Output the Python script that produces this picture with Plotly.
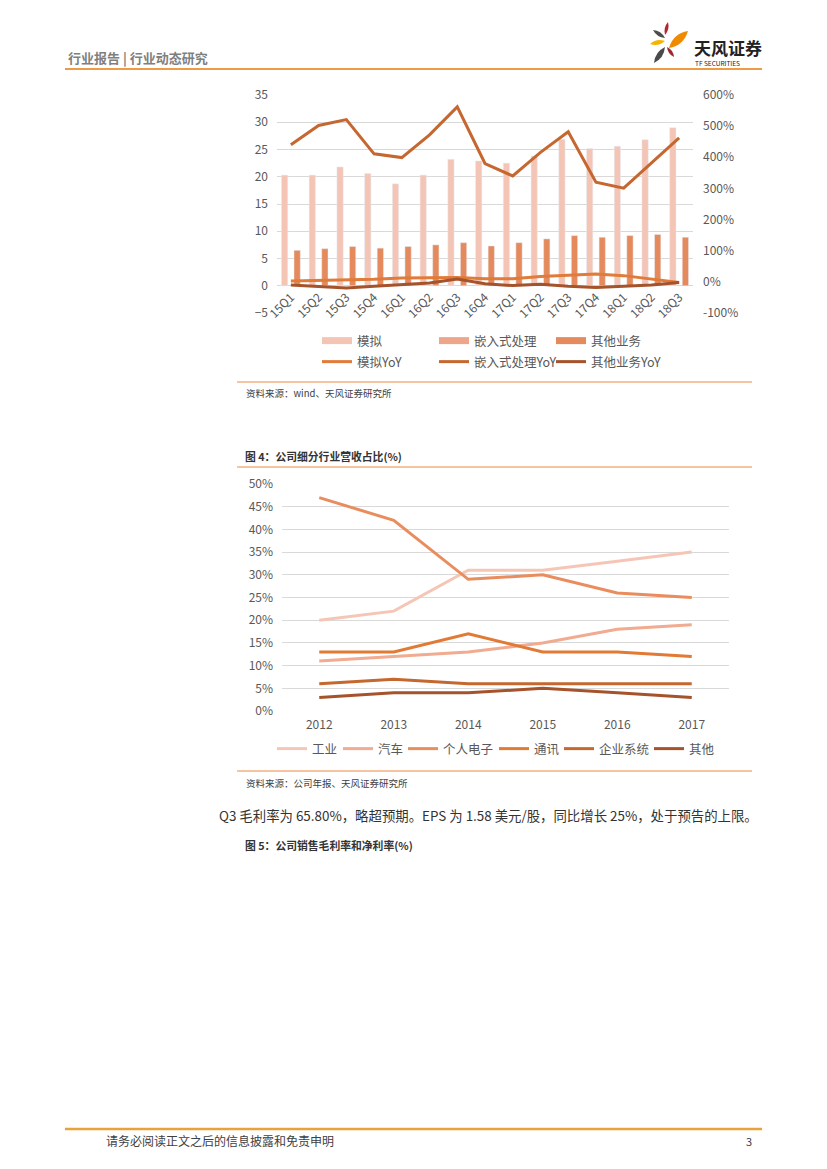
import plotly.graph_objects as go

W, H = 827, 1169
OFF = 8  # page body margin offset


def px(x):
    return (x - OFF) / W


def py(y):
    return 1 - (y - OFF) / H


# ---------------- data: chart 1 ----------------
quarters = ["15Q1", "15Q2", "15Q3", "15Q4", "16Q1", "16Q2", "16Q3", "16Q4",
            "17Q1", "17Q2", "17Q3", "17Q4", "18Q1", "18Q2", "18Q3"]
analog = [20.3, 20.3, 21.8, 20.6, 18.7, 20.3, 23.2, 22.9,
          22.5, 23.8, 26.9, 25.2, 25.6, 26.8, 29.0]
embedded = [None] * 15
other_biz = [6.5, 6.8, 7.2, 6.9, 7.2, 7.5, 7.9, 7.3,
             7.9, 8.6, 9.2, 8.9, 9.2, 9.4, 8.9]
analog_yoy = [0.03, 0.04, 0.06, 0.08, 0.12, 0.12, 0.14, 0.10,
              0.10, 0.17, 0.20, 0.25, 0.20, 0.08, -0.02]
embedded_yoy = [4.40, 5.02, 5.21, 4.11, 3.99, 4.72, 5.62, 3.80,
                3.40, 4.16, 4.82, 3.20, 3.01, 3.81, 4.62]
other_yoy = [-0.10, -0.14, -0.20, -0.14, -0.09, -0.04, 0.09, -0.06,
             -0.12, -0.08, -0.14, -0.18, -0.14, -0.10, -0.02]
right_ticks = [-1, 0, 1, 2, 3, 4, 5, 6]
right_labels = ["-100%", "0%", "100%", "200%", "300%", "400%", "500%", "600%"]

# ---------------- data: chart 2 ----------------
years = ["2012", "2013", "2014", "2015", "2016", "2017"]
industrial = [0.20, 0.22, 0.31, 0.31, 0.33, 0.35]
automotive = [0.11, 0.12, 0.13, 0.15, 0.18, 0.19]
personal = [0.47, 0.42, 0.29, 0.30, 0.26, 0.25]
comms = [0.13, 0.13, 0.17, 0.13, 0.13, 0.12]
enterprise = [0.06, 0.07, 0.06, 0.06, 0.06, 0.06]
others = [0.03, 0.04, 0.04, 0.05, 0.04, 0.03]

FONT = "Noto Sans CJK SC"
GRAY = "#595959"
GRID = "#D9D9D9"

C_ANALOG = "#F4C5B5"
C_EMB = "#EDA68A"
C_OTHER = "#E58A5C"
C_AY = "#E07B39"
C_EY = "#C5672F"
C_OY = "#A5532B"

fig = go.Figure()

# chart 1 bars
fig.add_trace(go.Bar(x=quarters, y=analog, name="模拟", marker_color=C_ANALOG,
                     xaxis="x", yaxis="y", showlegend=False))
fig.add_trace(go.Bar(x=quarters, y=embedded, name="嵌入式处理", marker_color=C_EMB,
                     xaxis="x", yaxis="y", showlegend=False))
fig.add_trace(go.Bar(x=quarters, y=other_biz, name="其他业务", marker_color=C_OTHER,
                     xaxis="x", yaxis="y", showlegend=False))
# chart 1 lines (secondary axis)
for vals, nm, col in [(analog_yoy, "模拟YoY", C_AY),
                      (embedded_yoy, "嵌入式处理YoY", C_EY),
                      (other_yoy, "其他业务YoY", C_OY)]:
    fig.add_trace(go.Scatter(x=quarters, y=vals, name=nm, mode="lines",
                             line=dict(color=col, width=3),
                             xaxis="x", yaxis="y2", legend="legend3"))
# legend keys for bars (wide swatches)
for nm, col in [("模拟", C_ANALOG), ("嵌入式处理", C_EMB), ("其他业务", C_OTHER)]:
    fig.add_trace(go.Scatter(x=[None], y=[None], name=nm, mode="lines",
                             line=dict(color=col, width=7),
                             xaxis="x", yaxis="y", legend="legend"))

# chart 2 lines, one legend box per item
series2 = [(industrial, "工业", "#F5C6B5"),
           (automotive, "汽车", "#F0AB90"),
           (personal, "个人电子", "#E98D5F"),
           (comms, "通讯", "#E07A35"),
           (enterprise, "企业系统", "#C5682F"),
           (others, "其他", "#A5532B")]
leg2_ids = ["legend2", "legend4", "legend5", "legend6", "legend7", "legend8"]
leg2_x = [272, 338, 403, 494, 559, 649]
for (vals, nm, col), lid in zip(series2, leg2_ids):
    fig.add_trace(go.Scatter(x=years, y=vals, name=nm, mode="lines",
                             line=dict(color=col, width=3),
                             xaxis="x2", yaxis="y3", legend=lid))

tickfont = dict(family=FONT, size=12, color=GRAY)
legfont = dict(family=FONT, size=12.5, color=GRAY)

layout_kw = dict(
    width=W, height=H,
    margin=dict(l=0, r=0, t=0, b=0, autoexpand=False),
    paper_bgcolor="white", plot_bgcolor="white",
    font=dict(family=FONT, color=GRAY),
    barmode="group", bargap=0.32, bargroupgap=0,
    xaxis=dict(domain=[px(277), px(693)], anchor="free", position=py(287),
               type="category", tickangle=-45, tickfont=tickfont,
               showgrid=False, showline=False, ticks="", automargin=False,
               ticklabelstandoff=0),
    yaxis=dict(domain=[py(313), py(95)], anchor="x", range=[-5, 35], dtick=5,
               tickfont=tickfont, showgrid=True, gridcolor=GRID, gridwidth=1,
               zeroline=False, ticks="", ticklabelstandoff=8, automargin=False),
    yaxis2=dict(overlaying="y", side="right", anchor="x", range=[-1, 6],
                tickvals=right_ticks, ticktext=right_labels,
                tickfont=tickfont, showgrid=False, zeroline=False, ticks="",
                ticklabelstandoff=9, automargin=False),
    xaxis2=dict(domain=[px(282), px(729)], anchor="y3", type="category",
                range=[-0.5, 5.5], tickfont=tickfont, showgrid=False,
                showline=False, ticks="", automargin=False,
                ticklabelstandoff=5),
    yaxis3=dict(domain=[py(711), py(484)], anchor="x2", range=[0, 0.5],
                dtick=0.05, tickformat=".0%", tickfont=tickfont,
                showgrid=True, gridcolor=GRID, zeroline=False, ticks="",
                ticklabelstandoff=8, automargin=False),
    legend=dict(x=px(317), y=py(341), xanchor="left", yanchor="middle",
                orientation="h", entrywidth=72, font=legfont,
                bgcolor="rgba(0,0,0,0)"),
    legend3=dict(x=px(317), y=py(362), xanchor="left", yanchor="middle",
                 orientation="h", entrywidth=72, font=legfont,
                 bgcolor="rgba(0,0,0,0)"),
)
for lid, lx in zip(leg2_ids, leg2_x):
    layout_kw[lid] = dict(x=px(lx), y=py(749), xanchor="left", yanchor="middle",
                          orientation="h", font=legfont, bgcolor="rgba(0,0,0,0)")
fig.update_layout(**layout_kw)

shapes = []
ORANGE_LINE = "#EE9B45"
LIGHT_LINE = "#F4B183"


def hline(x0, x1, y, color, width):
    shapes.append(dict(type="line", xref="paper", yref="paper",
                       x0=px(x0), x1=px(x1), y0=py(y), y1=py(y),
                       line=dict(color=color, width=width)))


hline(65, 762, 69, ORANGE_LINE, 2)
hline(65, 762, 1129, "#E9A23B", 2.5)
hline(237, 752, 382, LIGHT_LINE, 1.3)
hline(237, 752, 467, LIGHT_LINE, 1.3)
hline(237, 752, 771, LIGHT_LINE, 1.3)


def petal(x0, y0, x1, y1, w, color):
    mx, my = (x0 + x1) / 2, (y0 + y1) / 2
    dx, dy = x1 - x0, y1 - y0
    L = (dx * dx + dy * dy) ** 0.5
    nx, ny = -dy / L * w, dx / L * w
    c1 = (mx + nx, my + ny)
    c2 = (mx - nx, my - ny)
    path = "M {} {} Q {} {} {} {} Q {} {} {} {} Z".format(
        px(x0), py(y0), px(c1[0]), py(c1[1]), px(x1), py(y1),
        px(c2[0]), py(c2[1]), px(x0), py(y0))
    shapes.append(dict(type="path", xref="paper", yref="paper", path=path,
                       fillcolor=color, line=dict(width=0)))


petal(668, 22, 665, 35, 3.5, "#B3262C")
petal(653, 30, 665, 38, 4, "#4D4D4D")
petal(688, 31, 669, 48, 8, "#F08A00")
petal(650, 44, 665, 41, 4.5, "#F5B400")
petal(667, 47, 674, 57, 3.5, "#9E2A2B")
petal(654, 63, 665, 47, 5.5, "#4A4A4A")

fig.update_layout(shapes=shapes)

ann = []


def text(x, y, s, size, color="#404040", anchor="left", bold=False):
    ann.append(dict(xref="paper", yref="paper", x=px(x), y=py(y),
                    text=("<b>" + s + "</b>") if bold else s,
                    showarrow=False, xanchor=anchor, yanchor="middle",
                    font=dict(family=FONT, size=size, color=color)))


text(66, 57, "行业报告 | 行业动态研究", 13, "#7F7F7F", bold=True)
text(692, 47, "天风证券", 17, "#222222", bold=True)
text(693, 63, "TF SECURITIES", 6.5, "#222222")
text(244, 393, "资料来源：wind、天风证券研究所", 9.5, "#404040")
text(243, 456, "图 4：公司细分行业营收占比(%)", 10.8, "#333333", bold=True)
text(244, 783, "资料来源：公司年报、天风证券研究所", 9.5, "#404040")
text(217, 815, "Q3 毛利率为 65.80%，略超预期。EPS 为 1.58 美元/股，同比增长 25%，处于预告的上限。", 13.4, "#333333")
text(243, 845, "图 5：公司销售毛利率和净利率(%)", 10.8, "#333333", bold=True)
text(104, 1140, "请务必阅读正文之后的信息披露和免责申明", 12, "#404040")
text(754, 1141, "3", 11, "#404040", anchor="right")

fig.update_layout(annotations=ann)

fig.write_html("out.html")
